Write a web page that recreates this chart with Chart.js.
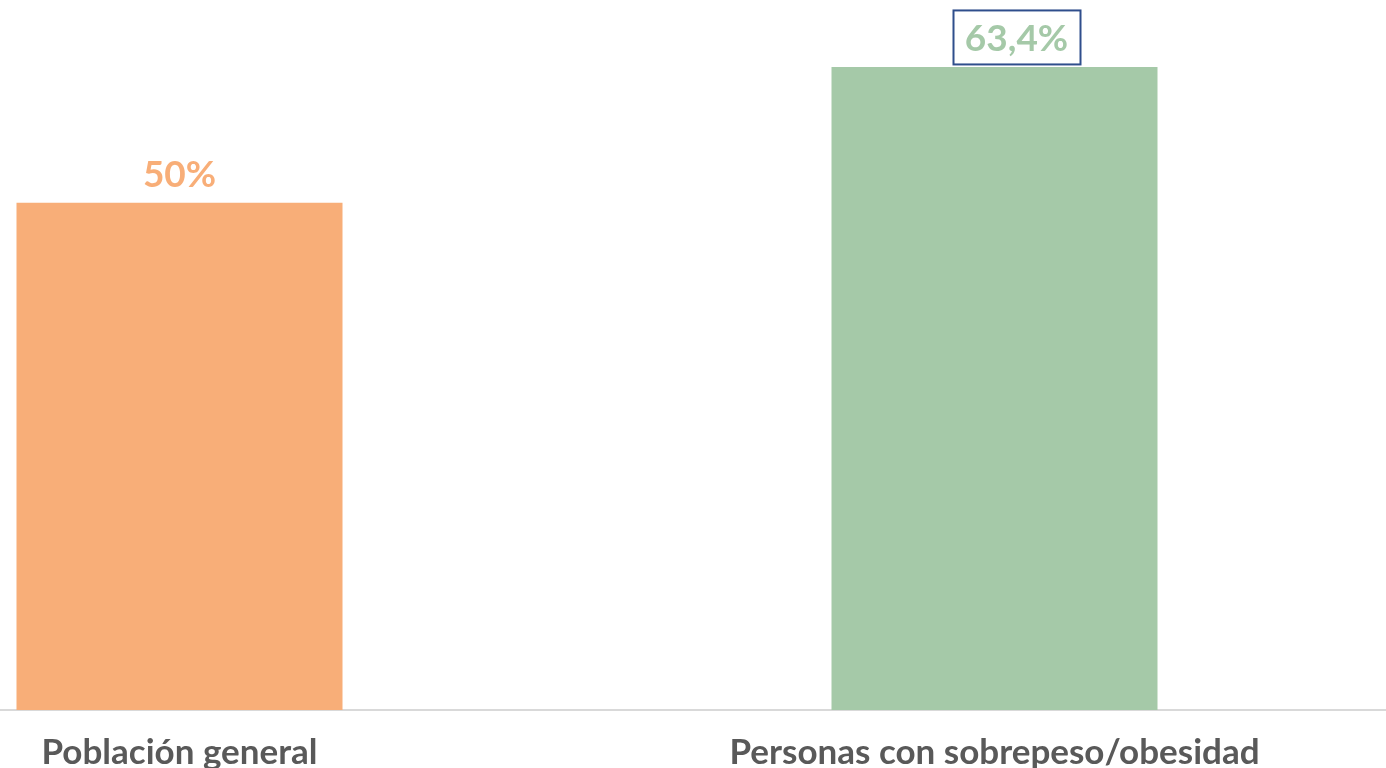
<!DOCTYPE html>
<html>
<head>
<meta charset="utf-8">
<script src="https://cdn.jsdelivr.net/npm/chart.js@4.4.0/dist/chart.umd.min.js"></script>
<style>
  html, body { margin: 0; padding: 0; background: #fff; overflow: hidden; }
  #wrap { position: relative; width: 1386px; height: 768px; overflow: hidden; }
  #box { position: absolute; left: -228px; top: 0; width: 1630px; height: 768px; }
</style>
</head>
<body>
<div id="wrap"><div id="box"><canvas id="bar-chart"></canvas></div></div>
<script>
const categories = ["Población general", "Personas con sobrepeso/obesidad"];
const values = [50, 63.4];
const valueLabels = ["50%", "63,4%"];
const barColors = ["#F8AE78", "#A5C9A8"];

// draws the value above each bar, the second one boxed
const valueLabelPlugin = {
    id: 'valueLabels',
    afterDatasetsDraw(chart) {
        const ctx = chart.ctx;
        const meta = chart.getDatasetMeta(0);
        ctx.save();
        ctx.font = "bold 37px Lato";
        ctx.textAlign = "center";
        ctx.textBaseline = "alphabetic";
        meta.data.forEach((bar, i) => {
            const dx = i === 1 ? 22 : 0;
            const x = bar.x + dx;
            const y = bar.y - 16;
            ctx.fillStyle = barColors[i];
            ctx.fillText(valueLabels[i], x, y);
            if (i === 1) {
                const w = ctx.measureText(valueLabels[i]).width + 24;
                ctx.strokeStyle = "#2F4E8C";
                ctx.lineWidth = 2;
                ctx.strokeRect(Math.round(x - w / 2) + 0.5, bar.y - 56.5, Math.round(w), 54);
            }
        });
        ctx.restore();
    }
};

let ctx = document.getElementById('bar-chart').getContext('2d');

let barChart = new Chart(ctx, {
    type: 'bar',
    data: {
        labels: categories,
        datasets: [{
            data: values,
            backgroundColor: barColors,
            borderWidth: 0,
            barPercentage: 1,
            categoryPercentage: 0.4
        }]
    },
    options: {
        responsive: true,
        maintainAspectRatio: false,
        animation: false,
        layout: { padding: 0 },
        plugins: {
            legend: { display: false },
            tooltip: { enabled: false }
        },
        scales: {
            x: {
                grid: { display: false },
                border: { display: true, color: "#D9D9D9", width: 2 },
                ticks: {
                    color: "#595959",
                    padding: 17,
                    maxRotation: 0,
                    font: { family: "Lato", size: 35, weight: "bold", lineHeight: 1 }
                },
                afterFit: (scale) => { scale.height = 58; }
            },
            y: {
                display: false,
                min: 0,
                max: 70
            }
        }
    },
    plugins: [valueLabelPlugin]
});
</script>
</body>
</html>
